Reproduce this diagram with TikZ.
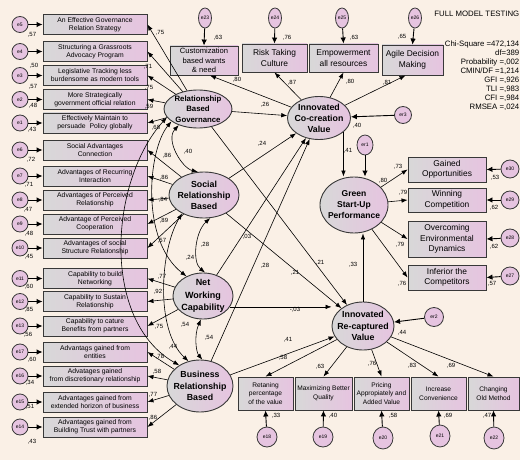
\documentclass[tikz,border=0pt]{standalone}
\usepackage{fontspec}
\setmainfont{Liberation Sans}
\usetikzlibrary{shapes.geometric,arrows.meta}
\definecolor{bgc}{HTML}{FAF0E6}
\definecolor{lav}{HTML}{E6C4E0}
\definecolor{lgr}{HTML}{D8D8D8}
\definecolor{edg}{HTML}{383838}
\tikzset{
 ind/.style={rectangle, draw=edg, line width=0.9pt, left color=lgr, right color=lav, align=center, inner sep=0pt},
 lbox/.style={ind, minimum width=104, minimum height=20, font=\fontsize{6.8}{8}\selectfont},
 tbox/.style={ind, font=\fontsize{8.4}{10.5}\selectfont},
 rbox/.style={ind, minimum width=78, font=\fontsize{8.4}{10.5}\selectfont},
 bbox/.style={ind, minimum height=33, font=\fontsize{6.6}{8.6}\selectfont},
 lat/.style={ellipse, draw=edg, line width=0.9pt, left color=lgr, right color=lav, inner sep=0pt},
 lt/.style={align=center, inner sep=0pt, font=\bfseries\fontsize{8.8}{11}\selectfont},
 err/.style={ellipse, draw=edg, line width=0.8pt, fill=lav, inner sep=0pt, minimum width=16, minimum height=16, font=\fontsize{5}{5}\selectfont},
 num/.style={inner sep=0pt, font=\fontsize{6}{6}\selectfont},
 pth/.style={draw=black, line width=0.6pt, -{Latex[length=6pt,width=4.5pt]}},
 earr/.style={draw=black, line width=0.9pt, -{Latex[length=6pt,width=5.5pt]}},
 cov/.style={draw=black, line width=0.6pt, {Latex[length=6pt,width=4.5pt]}-{Latex[length=6pt,width=4.5pt]}},
 stat/.style={inner sep=0pt, font=\fontsize{7.8}{9}\selectfont},
}
\begin{document}
\begin{tikzpicture}[x=1pt,y=-1pt]
\fill[bgc] (0,0) rectangle (520,460);
\useasboundingbox (0,0) rectangle (520,460);

% ---------- left indicator boxes ----------
\node[lbox] (b5) at (95,24.5) {An Effective Governance\\Relation Strategy};
\node[lbox] (b4) at (95,51.5) {Structuring a Grassroots\\Advocacy Program};
\node[lbox] (b3) at (95,75.5) {Legislative Tracking less\\burdensome as modern tools};
\node[lbox] (b2) at (95,99.5) {More Strategically\\government official relation};
\node[lbox] (b1) at (95,123) {Effectively Maintain to\\persuade\ \ Policy globally};
\node[lbox] (b6) at (95,150) {Social Advantages\\Connection};
\node[lbox] (b7) at (95,176) {Advantages of Recurring\\Interaction};
\node[lbox] (b8) at (95,200) {Advantages of Perceived\\Relationship};
\node[lbox] (b9) at (95,224) {Advantage of Perceived\\Cooperation};
\node[lbox] (b10) at (95,248) {Advantages of social\\Structure Relationship};
\node[lbox] (b11) at (95,278.5) {Capability to build\\Networking};
\node[lbox] (b12) at (95,301.5) {Capability to Sustain\\Relationship};
\node[lbox] (b13) at (95,326) {Capability to cature\\Benefits from partners};
\node[lbox] (b17) at (95,352) {Advantags gained from\\entities};
\node[lbox] (b16) at (95,376) {Advatages gained\\from discretionary relationship};
\node[lbox] (b15) at (95,402) {Advantages gained from\\extended horizon of business};
\node[lbox] (b14) at (95,427) {Advantages gained from\\Building Trust with partners};

% left error terms
\foreach \n/\y in {5/24.5,4/51.5,3/75.5,2/99.5,1/123,6/150,7/176,8/200,9/224,10/248,11/278.5,12/301.5,13/326,17/352,16/376,15/402,14/427}{
  \node[err] (e\n) at (20,\y) {e\n};
  \draw[earr] (e\n) -- (b\n.west);
}
% left variance labels
\node[num] (v5) at (32,35) {,57};
\node[num] (v4) at (34,66) {,50};
\node[num] (v3) at (33,87) {,57};
\node[num] (v2) at (33,106) {,48};
\node[num] (v1) at (32,130) {,43};
\node[num] (v6) at (31,160) {,72};
\node[num] (v7) at (29,185) {,71};
\node[num] (v8) at (28,210) {,47};
\node[num] (v9) at (29,234) {,48};
\node[num] (v10) at (29,257) {,45};
\node[num] (v11) at (29,287) {,60};
\node[num] (v12) at (29,310) {,85};
\node[num] (v13) at (28,335) {,56};
\node[num] (v17) at (32,360) {,60};
\node[num] (v16) at (30,383) {,34};
\node[num] (v15) at (30,407) {,51};
\node[num] (v14) at (32,442) {,43};

% ---------- latent variables ----------
\node[lat, minimum width=68, minimum height=38] (rbg) at (198,109) {};
\node[lt, font=\bfseries\fontsize{7.8}{10.5}\selectfont] (rbgT) at (rbg) {Relationship\\Based\\Governance};
\node[lat, minimum width=70, minimum height=46] (soc) at (204,195) {};
\node[lt] (socT) at (soc) {Social\\Relationship\\Based};
\node[lat, minimum width=60, minimum height=46] (nw) at (203,296) {};
\node[lt, font=\bfseries\fontsize{9}{12.5}\selectfont] (nwT) at (nw) {Net\\Working\\Capability};
\node[lat, minimum width=66, minimum height=52] (bus) at (200,386) {};
\node[lt, font=\bfseries\fontsize{8.8}{11.7}\selectfont] (busT) at (bus) {Business\\Relationship\\Based};
\node[lat, minimum width=63, minimum height=43] (co) at (319,118) {};
\node[lt] (coT) at (co) {Innovated\\Co-creation\\Value};
\node[lat, minimum width=68, minimum height=56] (green) at (354,205) {};
\node[lt, font=\bfseries\fontsize{8.5}{11}\selectfont] (greenT) at (green) {Green\\Start-Up\\Performance};
\node[lat, minimum width=62, minimum height=48] (re) at (363,326) {};
\node[lt, font=\bfseries\fontsize{8.8}{11.7}\selectfont] (reT) at (re) {Innovated\\Re-captured\\Value};

% ---------- top indicators ----------
\node[tbox, minimum width=68, minimum height=29, font=\fontsize{7.6}{9.6}\selectfont] (cust) at (204,60.5) {Customization\\based wants\\\& need};
\node[tbox, minimum width=65, minimum height=28] (risk) at (274.5,58) {Risk Taking\\Culture};
\node[tbox, minimum width=69, minimum height=28] (emp) at (343.5,58) {Empowerment\\all resources};
\node[tbox, minimum width=61, minimum height=30] (agile) at (412.5,60) {Agile Decision\\Making};
\node[err, minimum width=13, minimum height=20] (e23) at (205,18) {e23};
\node[err, minimum width=13, minimum height=20] (e24) at (275,18) {e24};
\node[err, minimum width=13, minimum height=20] (e25) at (342,18) {e25};
\node[err, minimum width=13, minimum height=20] (e26) at (415,18) {e26};
\draw[earr] (e23) -- (cust.north);
\draw[earr] (e24) -- (risk.north);
\draw[earr] (e25) -- (emp.north);
\draw[earr] (e26) -- (agile.north);
\node[num] (v23) at (218,38) {,63};
\node[num] (v24) at (287,38) {,76};
\node[num] (v25) at (354,38) {,63};
\node[num] (v26) at (402,37) {,65};

% ---------- right indicators ----------
\node[rbox, minimum height=25] (gain) at (447,169.5) {Gained\\Opportunities};
\node[rbox, minimum height=24] (win) at (447,200) {Winning\\Competition};
\node[rbox, minimum height=36] (over) at (447,239) {Overcoming\\Environmental\\Dynamics};
\node[rbox, minimum height=25] (inf) at (447,277.5) {Inferior the\\Competitors};
\node[err, minimum size=18] (e30) at (510,169) {e30};
\node[err, minimum size=18] (e29) at (510,200) {e29};
\node[err, minimum size=18] (e28) at (510,238) {e28};
\node[err, minimum size=18] (e27) at (510,276) {e27};
\draw[earr] (e30) -- (gain.east);
\draw[earr] (e29) -- (win.east);
\draw[earr] (e28) -- (over.east);
\draw[earr] (e27) -- (inf.east);
\node[num] (v30) at (495,178) {,53};
\node[num] (v29) at (494,208) {,62};
\node[num] (v28) at (494,247) {,62};
\node[num] (v27) at (492,284) {,57};

% ---------- bottom indicators ----------
\node[bbox, minimum width=55] (ret) at (265.5,393.5) {Retaning\\percentage\\of the value};
\node[bbox, minimum width=57] (max) at (323.5,393.5) {Maximizing Better\\Quality};
\node[bbox, minimum width=55] (pri) at (381.5,393.5) {Pricing\\Appropiately and\\Added Value};
\node[bbox, minimum width=55] (inc) at (438.5,393.5) {Increase\\Convenience};
\node[bbox, minimum width=51] (chg) at (493.5,393.5) {Changing\\Old Method};
\node[err, minimum size=20] (e18) at (267,437) {e18};
\node[err, minimum size=20] (e19) at (323,437) {e19};
\node[err, minimum width=20, minimum height=22] (e20) at (383,438) {e20};
\node[err, minimum width=20, minimum height=22] (e21) at (440,436) {e21};
\node[err, minimum width=20, minimum height=22] (e22) at (494,438) {e22};
\draw[earr] (e18) -- (ret.south);
\draw[earr] (e19) -- (max.south);
\draw[earr] (e20) -- (pri.south);
\draw[earr] (e21) -- (inc.south);
\draw[earr] (e22) -- (chg.south);
\node[num] (v18) at (276,416) {,33};
\node[num] (v19) at (333,416) {,40};
\node[num] (v20) at (393,416) {,58};
\node[num] (v21) at (448,416) {,69};
\node[num] (v22) at (487,416) {,47};

% ---------- structural disturbances ----------
\node[err, minimum width=17, minimum height=17] (er3) at (403,115) {er3};
\node[err, minimum width=16, minimum height=20] (er1) at (365,145) {er1};
\node[err, minimum size=19] (er2) at (434,317) {er2};
\draw[earr] (er3) -- (co);
\draw[earr] (er1.south) -- (er1.south |- green.north);
\draw[earr] (er2) -- (re);

% ---------- measurement paths ----------
\foreach \b in {b5,b4,b3,b2,b1}{\draw[pth] (rbg) -- (\b.east);}
\foreach \b in {b6,b7,b8,b9,b10}{\draw[pth] (soc) -- (\b.east);}
\foreach \b in {b11,b12,b13}{\draw[pth] (nw) -- (\b.east);}
\foreach \b in {b17,b16,b15,b14}{\draw[pth] (bus) -- (\b.east);}
\draw[pth] (co) -- ([xshift=6pt]cust.south);
\draw[pth] (co) -- (risk.south);
\draw[pth] (co) -- (emp.south);
\draw[pth] (co) -- ([xshift=-7pt]agile.south);
\foreach \b in {gain,win,over,inf}{\draw[pth] (green) -- (\b.west);}
\foreach \b in {ret,max,pri,inc,chg}{\draw[pth] (re) -- (\b.north);}

% ---------- structural paths ----------
\draw[pth] (rbg) -- (co);
\draw[pth] (soc) -- (co);
\draw[pth] (nw) -- (co);
\draw[pth] (bus) -- (co);
\draw[pth] (rbg) -- (re);
\draw[pth] (soc) -- (re);
\draw[pth] (nw.-22) -- (nw.-22 -| re.west);
\draw[pth] (bus) -- (re);
\draw[pth] (co.-30) -- (co.-30 |- green.north);
\draw[pth] (re.north) -- (re.north |- green.south);

% ---------- covariances ----------
\draw[cov] (rbg.-140) .. controls (165,140) and (182,168) .. (soc.105);
\draw[cov] (soc.-75) .. controls (195,232) and (192,262) .. (nw.85);
\draw[cov] (nw.-95) .. controls (194,335) and (196,352) .. (bus.85);
\draw[cov] (rbg.-155) .. controls (148,150) and (140,240) .. (nw.130);
\draw[cov] (rbg.-165) .. controls (110,180) and (100,320) .. (bus.135);
\draw[cov] (soc.-140) .. controls (160,250) and (155,330) .. (bus.115);

% ---------- coefficient labels ----------
\node[num] (l1) at (160,33) {,75};
\node[num] (l2) at (148,67) {,71};
\node[num] (l3) at (149,88) {,75};
\node[num] (l4) at (149,107) {,59};
\node[num] (l5) at (156,128) {,68};
\node[num] (l6) at (167,156) {,86};
\node[num] (l7) at (164,178) {,86};
\node[num] (l8) at (163,200) {,84};
\node[num] (l9) at (164,221) {,89};
\node[num] (l10) at (162,241) {,57};
\node[num] (l11) at (162,277) {,77};
\node[num] (l12) at (158,292) {,92};
\node[num] (l13) at (159,327) {,75};
\node[num] (l17) at (160,357) {,78};
\node[num] (l16) at (157,372) {,58};
\node[num] (l15) at (153,395) {,77};
\node[num] (l14) at (153,418) {,86};
\node[num] (c40) at (188,152) {,40};
\node[num] (c28) at (205,245) {,28};
\node[num] (c24) at (190,258) {,24};
\node[num] (c54a) at (185,325) {,54};
\node[num] (c54b) at (209,338) {,54};
\node[num] (c44) at (173,347) {,44};
\node[num] (t1) at (237,80) {,80};
\node[num] (t2) at (292,83) {,87};
\node[num] (t3) at (350,82) {,80};
\node[num] (t4) at (387,83) {,81};
\node[num] (s26) at (265,105) {,26};
\node[num] (s24) at (262,144) {,24};
\node[num] (s03) at (247,237) {,03};
\node[num] (s28) at (265,266) {,28};
\node[num] (s21a) at (320,263) {,21};
\node[num] (s21b) at (295,273) {,21};
\node[num] (sm03) at (295,310) {-,03};
\node[num] (s41b) at (288,340) {,41};
\node[num] (r40) at (357,126) {,40};
\node[num] (s41) at (348,151) {,41};
\node[num] (s33) at (353,265) {,33};
\node[num] (r80) at (383,181) {,80};
\node[num] (g1) at (398,167) {,73};
\node[num] (g2) at (403,193) {,79};
\node[num] (g3) at (400,245) {,79};
\node[num] (g4) at (402,284) {,76};
\node[num] (r44) at (402,333) {,44};
\node[num] (q1) at (283,358) {,58};
\node[num] (q2) at (320,367) {,63};
\node[num] (q3) at (372,364) {,76};
\node[num] (q4) at (412,366) {,83};
\node[num] (q5) at (451,366) {,69};

% ---------- fit statistics ----------
\node[stat, anchor=east] (title) at (519.5,14) {FULL MODEL TESTING};
\node[stat, anchor=north east, align=right] (stats) at (519.5,40.5) {Chi-Square =472,134\\df=389\\Probability =,002\\CMIN/DF =1,214\\GFI =,926\\TLI =,983\\CFI =,984\\RMSEA =,024};
\end{tikzpicture}
\end{document}
